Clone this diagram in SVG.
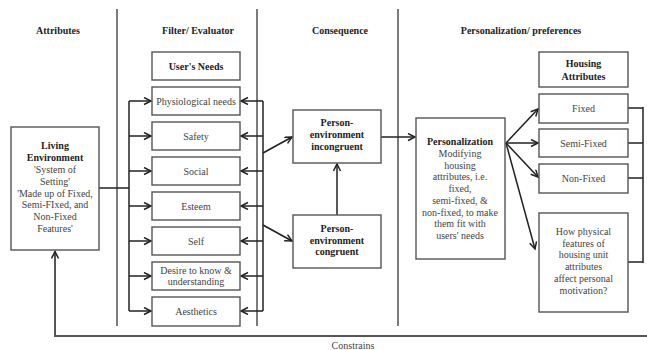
<svg xmlns="http://www.w3.org/2000/svg" width="647" height="350" viewBox="0 0 647 350">
<defs>
<marker id="ah" markerUnits="userSpaceOnUse" markerWidth="10" markerHeight="10" refX="8" refY="4" orient="auto">
<path d="M1,0.5 L8,4 L1,7.5" fill="none" stroke="#222" stroke-width="1.5"/>
</marker>
<style>
.bg{fill:#fff}
.box{fill:#fff;stroke:#555;stroke-width:1.4}
.div{stroke:#444;stroke-width:1.4;fill:none}
.ln{stroke:#222;stroke-width:1.5;fill:none}
.ar{stroke:#222;stroke-width:1.5;fill:none;marker-end:url(#ah)}
.t{font-family:"Liberation Serif","Times New Roman",serif;font-size:10px;fill:#444;text-anchor:middle}
.b{font-family:"Liberation Serif","Times New Roman",serif;font-size:10px;font-weight:bold;fill:#222;text-anchor:middle}
.h{font-family:"Liberation Serif","Times New Roman",serif;font-size:10px;font-weight:bold;fill:#222;text-anchor:middle}
</style>
</defs>
<rect class="bg" x="0" y="0" width="647" height="350"/>

<g id="dividers">
<line class="div" x1="117" y1="9" x2="117" y2="326"/>
<line class="div" x1="257" y1="9" x2="257" y2="326"/>
<line class="div" x1="398" y1="9" x2="398" y2="326"/>
</g>

<g id="headers">
<text class="h" x="58" y="34">Attributes</text>
<text class="h" x="198" y="34">Filter/ Evaluator</text>
<text class="h" x="340" y="34">Consequence</text>
<text class="h" x="521" y="34">Personalization/ preferences</text>
</g>

<g id="connectors">
<line class="ln" x1="99" y1="188" x2="129" y2="188"/>
<line class="ln" x1="129" y1="101" x2="129" y2="311"/>
<line class="ar" x1="129" y1="101" x2="151" y2="101"/>
<line class="ar" x1="129" y1="136" x2="151" y2="136"/>
<line class="ar" x1="129" y1="171" x2="151" y2="171"/>
<line class="ar" x1="129" y1="206" x2="151" y2="206"/>
<line class="ar" x1="129" y1="241" x2="151" y2="241"/>
<line class="ar" x1="129" y1="276" x2="151" y2="276"/>
<line class="ar" x1="129" y1="311" x2="151" y2="311"/>
<line class="ln" x1="263" y1="101" x2="263" y2="311"/>
<line class="ar" x1="263" y1="101" x2="241" y2="101"/>
<line class="ar" x1="263" y1="136" x2="241" y2="136"/>
<line class="ar" x1="263" y1="171" x2="241" y2="171"/>
<line class="ar" x1="263" y1="206" x2="241" y2="206"/>
<line class="ar" x1="263" y1="241" x2="241" y2="241"/>
<line class="ar" x1="263" y1="276" x2="241" y2="276"/>
<line class="ar" x1="263" y1="311" x2="241" y2="311"/>
<line class="ar" x1="263" y1="153" x2="292" y2="137"/>
<line class="ar" x1="263" y1="225" x2="292" y2="241"/>
<line class="ar" x1="337" y1="215" x2="337" y2="164"/>
<line class="ar" x1="381" y1="137" x2="415" y2="137"/>
<line class="ar" x1="506" y1="143" x2="538" y2="109"/>
<line class="ar" x1="506" y1="143" x2="538" y2="143"/>
<line class="ar" x1="506" y1="143" x2="538" y2="177"/>
<line class="ar" x1="506" y1="143" x2="535" y2="249"/>
<line class="ln" x1="628" y1="108" x2="643" y2="108"/>
<line class="ln" x1="628" y1="143" x2="643" y2="143"/>
<line class="ln" x1="628" y1="178" x2="643" y2="178"/>
<line class="ln" x1="628" y1="262" x2="643" y2="262"/>
<line class="ln" x1="643" y1="107" x2="643" y2="263"/>
<path d="M647,336 H55 V251.5" fill="none" stroke="#555" stroke-width="2" marker-end="url(#ah)"/>
</g>

<g id="living-environment">
<rect class="box" x="11" y="127" width="88" height="123"/>
<text class="b" x="55" y="149">Living</text>
<text class="b" x="55" y="161">Environment</text>
<text class="t" x="55" y="173">'System of</text>
<text class="t" x="55" y="185">Setting'</text>
<text class="t" x="55" y="197">'Made up of Fixed,</text>
<text class="t" x="55" y="208">Semi-FIxed, and</text>
<text class="t" x="55" y="220">Non-Fixed</text>
<text class="t" x="55" y="232">Features'</text>
</g>

<g id="users-needs">
<rect class="box" x="152" y="52" width="88" height="28"/>
<text class="b" x="196" y="69.5">User's Needs</text>
</g>
<g id="physiological">
<rect class="box" x="152" y="87" width="88" height="28"/>
<text class="t" x="196" y="104.5">Physiological needs</text>
</g>
<g id="safety">
<rect class="box" x="152" y="122" width="88" height="28"/>
<text class="t" x="196" y="139.5">Safety</text>
</g>
<g id="social">
<rect class="box" x="152" y="157" width="88" height="28"/>
<text class="t" x="196" y="174.5">Social</text>
</g>
<g id="esteem">
<rect class="box" x="152" y="192" width="88" height="28"/>
<text class="t" x="196" y="209.5">Esteem</text>
</g>
<g id="self">
<rect class="box" x="152" y="227" width="88" height="28"/>
<text class="t" x="196" y="244.5">Self</text>
</g>
<g id="desire">
<rect class="box" x="152" y="262" width="88" height="28"/>
<text class="t" x="196" y="273.5">Desire to know &amp;</text>
<text class="t" x="196" y="285">understanding</text>
</g>
<g id="aesthetics">
<rect class="box" x="152" y="297" width="88" height="29"/>
<text class="t" x="196" y="315">Aesthetics</text>
</g>

<g id="incongruent">
<rect class="box" x="293" y="110" width="88" height="53"/>
<text class="b" x="337" y="126">Person-</text>
<text class="b" x="337" y="138">environment</text>
<text class="b" x="337" y="150">incongruent</text>
</g>
<g id="congruent">
<rect class="box" x="293" y="215" width="88" height="53"/>
<text class="b" x="337" y="232">Person-</text>
<text class="b" x="337" y="244">environment</text>
<text class="b" x="337" y="255">congruent</text>
</g>

<g id="personalization">
<rect class="box" x="416" y="118" width="89" height="141"/>
<text class="b" x="460" y="145">Personalization</text>
<text class="t" x="460" y="157">Modifying</text>
<text class="t" x="460" y="169">housing</text>
<text class="t" x="460" y="180">attributes, i.e.</text>
<text class="t" x="460" y="192">fixed,</text>
<text class="t" x="460" y="204">semi-fixed, &amp;</text>
<text class="t" x="460" y="216">non-fixed, to make</text>
<text class="t" x="460" y="227">them fit with</text>
<text class="t" x="460" y="239">users' needs</text>
</g>

<g id="housing-attributes">
<rect class="box" x="539" y="52" width="89" height="35"/>
<text class="b" x="583.5" y="67">Housing</text>
<text class="b" x="583.5" y="80">Attributes</text>
</g>
<g id="fixed">
<rect class="box" x="539" y="94" width="89" height="29"/>
<text class="t" x="583.5" y="112">Fixed</text>
</g>
<g id="semi-fixed">
<rect class="box" x="539" y="129" width="89" height="28"/>
<text class="t" x="583.5" y="146.5">Semi-Fixed</text>
</g>
<g id="non-fixed">
<rect class="box" x="539" y="164" width="89" height="29"/>
<text class="t" x="583.5" y="182">Non-Fixed</text>
</g>
<g id="question">
<rect class="box" x="539" y="213" width="89" height="99"/>
<text class="t" x="583.5" y="235">How physical</text>
<text class="t" x="583.5" y="247">features of</text>
<text class="t" x="583.5" y="258">housing unit</text>
<text class="t" x="583.5" y="270">attributes</text>
<text class="t" x="583.5" y="282">affect personal</text>
<text class="t" x="583.5" y="294">motivation?</text>
</g>

<g id="constrains-label">
<text class="t" x="353" y="349">Constrains</text>
</g>
</svg>
